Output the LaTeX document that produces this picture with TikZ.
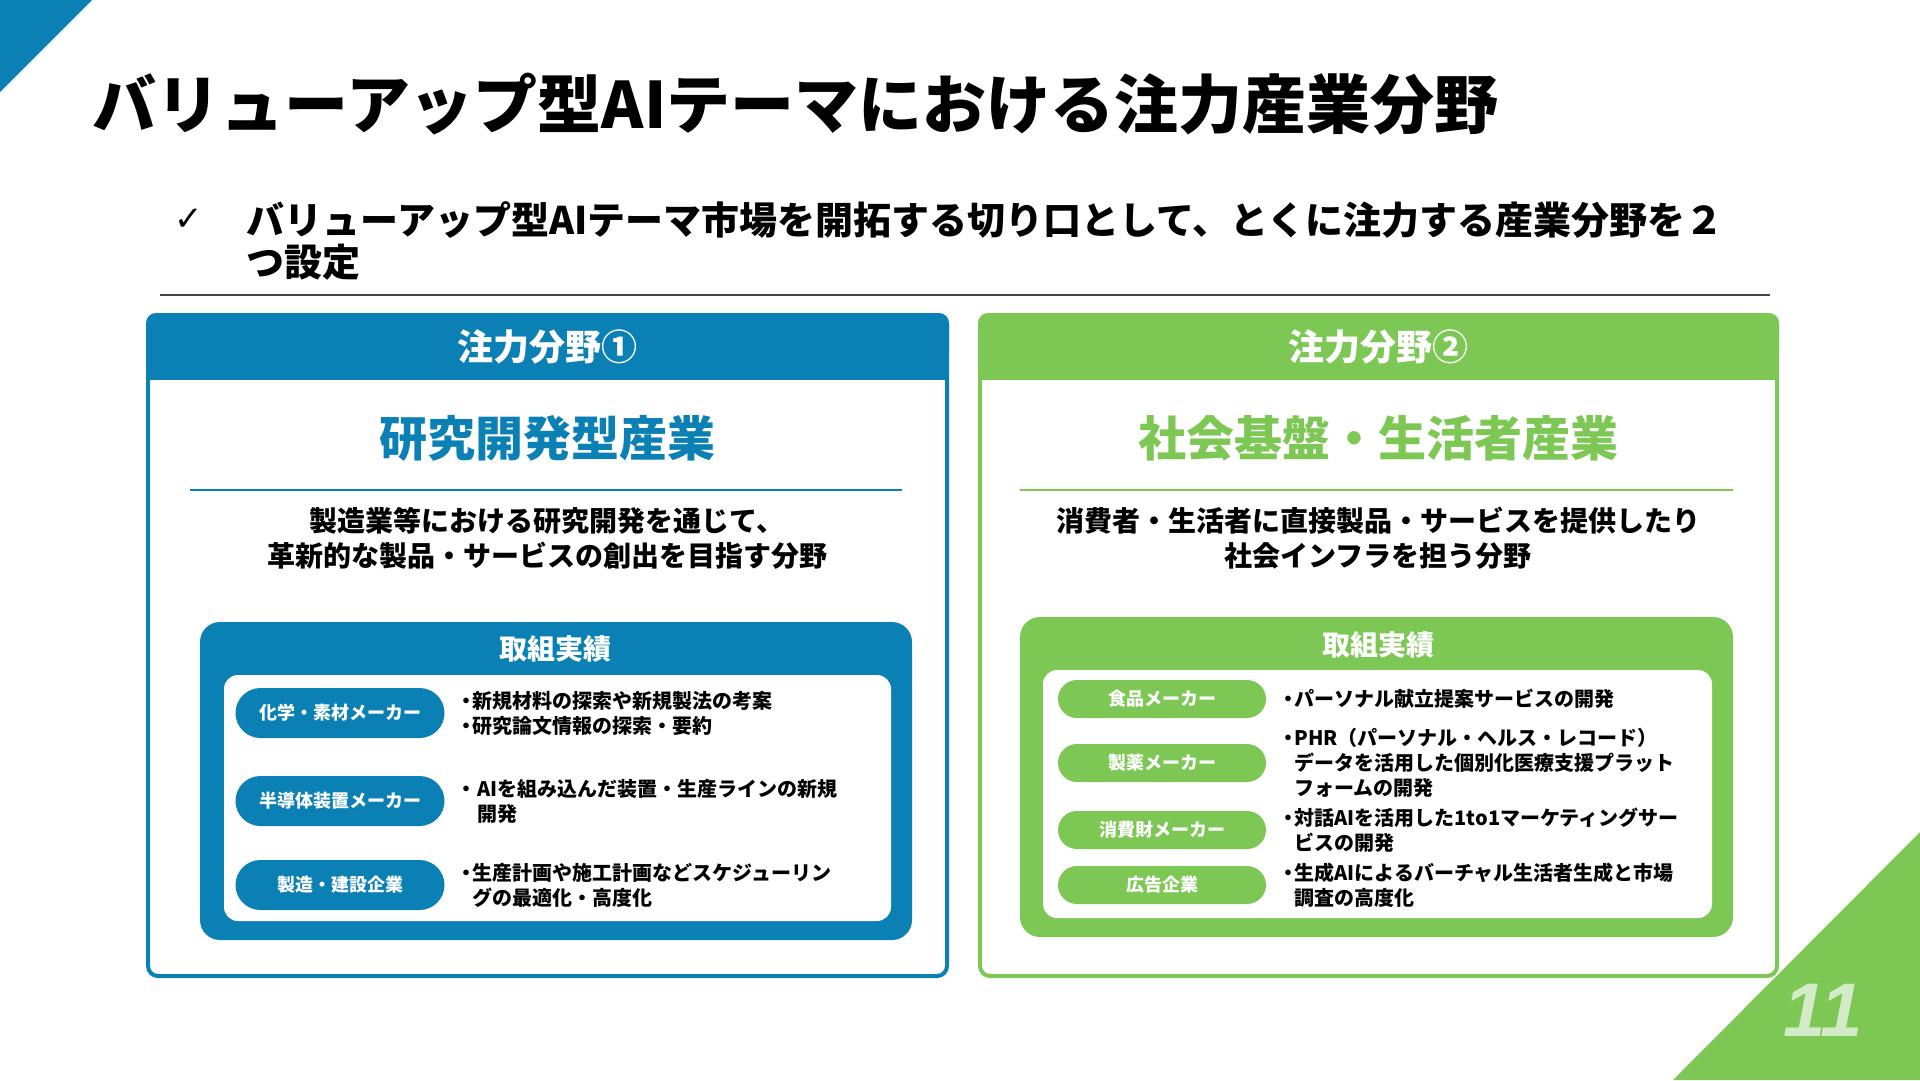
\documentclass[tikz,border=0pt]{standalone}
\usepackage{fontspec}
\setmainfont{Noto Sans CJK JP}
\newfontfamily\symfont{DejaVu Sans}
\newfontfamily\numfont{Liberation Sans}
\usetikzlibrary{positioning}
\definecolor{fieldblue}{HTML}{0A80B4}
\definecolor{fieldgreen}{HTML}{7DC855}
\definecolor{pagegreen}{HTML}{D3EBC6}
\definecolor{rulegray}{HTML}{444444}
\newcommand\dotitem{・\kern-4pt}
\newcommand\dotskip{\hspace*{16pt}}
\tikzset{
  pillA/.style={fill=fieldblue, text=white, rounded corners=25pt, minimum width=209pt, minimum height=50pt, inner sep=0pt, font=\bfseries\fontsize{18}{18}\selectfont},
  pillB/.style={fill=fieldgreen, text=white, rounded corners=19pt, minimum width=208pt, minimum height=38pt, inner sep=0pt, font=\bfseries\fontsize{18}{18}\selectfont},
  itemtext/.style={align=left, inner sep=0pt, font=\bfseries\fontsize{20}{25}\selectfont},
  headtext/.style={text=white, font=\bfseries\fontsize{36}{36}\selectfont},
  nametext/.style={font=\bfseries\fontsize{48}{48}\selectfont},
  desctext/.style={align=center, font=\bfseries\fontsize{28}{35}\selectfont},
  rectext/.style={text=white, font=\bfseries\fontsize{28}{28}\selectfont}
}
\begin{document}
\begin{tikzpicture}[x=1pt, y=-1pt]
\useasboundingbox (0,0) rectangle (1920,1080);
% corners
\fill[fieldblue] (0,0) -- (92,0) -- (0,92) -- cycle;
\fill[fieldgreen] (1920,832) -- (1920,1080) -- (1673,1080) -- cycle;
\node[text=pagegreen, font=\numfont\bfseries\itshape\fontsize{76}{76}\selectfont] (pageno) at (1823,1010) {11};

% title and lead
\node[anchor=west, font=\bfseries\fontsize{64}{64}\selectfont] (title) at (89,104) {バリューアップ型AIテーマにおける注力産業分野};
\node[font=\symfont\bfseries\fontsize{34}{34}\selectfont] (check) at (189,220) {✓};
\node[anchor=west, align=left, font=\bfseries\fontsize{38}{42}\selectfont] (lead) at (243,241) {バリューアップ型AIテーマ市場を開拓する切り口として、とくに注力する産業分野を２\\つ設定};
\draw[rulegray, line width=2] (160,295) -- (1770,295);

% field 1
\draw[fieldblue, line width=4, rounded corners=10] (148,315) rectangle (947,976);
\fill[fieldblue, rounded corners=10] (146,313) rectangle (949,360);
\fill[fieldblue] (146,340) rectangle (949,380);
\node[headtext] (headA) at (547,347) {注力分野①};
\node[nametext, text=fieldblue] (nameA) at (547,438) {研究開発型産業};
\draw[fieldblue, line width=2] (190,490) -- (902,490);
\node[desctext] (descA) at (547,538) {製造業等における研究開発を通じて、\\革新的な製品・サービスの創出を目指す分野};
\fill[fieldblue, rounded corners=20] (200,622) rectangle (912,940);
\node[rectext] (recA) at (555,649) {取組実績};
\fill[white, rounded corners=14] (224,675) rectangle (891,921);
\node[pillA] (chem) at (340,713) {化学・素材メーカー};
\node[pillA] (semi) at (340,801) {半導体装置メーカー};
\node[pillA] (build) at (340,885) {製造・建設企業};
\node[itemtext, right=12pt of chem] (chemtxt) {\dotitem 新規材料の探索や新規製法の考案\\\dotitem 研究論文情報の探索・要約};
\node[itemtext, right=12pt of semi] (semitxt) {\dotitem\ AIを組み込んだ装置・生産ラインの新規\\\dotskip\ 開発};
\node[itemtext, right=12pt of build] (buildtxt) {\dotitem 生産計画や施工計画などスケジューリン\\\dotskip グの最適化・高度化};

% field 2
\draw[fieldgreen, line width=4, rounded corners=10] (980,315) rectangle (1777,976);
\fill[fieldgreen, rounded corners=10] (978,313) rectangle (1779,360);
\fill[fieldgreen] (978,340) rectangle (1779,380);
\node[headtext] (headB) at (1378,347) {注力分野②};
\node[nametext, text=fieldgreen] (nameB) at (1378,438) {社会基盤・生活者産業};
\draw[fieldgreen, line width=2] (1020,490) -- (1733,490);
\node[desctext] (descB) at (1378,538) {消費者・生活者に直接製品・サービスを提供したり\\社会インフラを担う分野};
\fill[fieldgreen, rounded corners=20] (1020,617) rectangle (1733,937);
\node[rectext] (recB) at (1378,645) {取組実績};
\fill[white, rounded corners=14] (1043,670) rectangle (1712,918);
\node[pillB] (food) at (1162,699) {食品メーカー};
\node[pillB] (pharma) at (1162,763) {製薬メーカー};
\node[pillB] (goods) at (1162,830) {消費財メーカー};
\node[pillB] (adv) at (1162,885) {広告企業};
\node[itemtext, right=12pt of food] (foodtxt) {\dotitem パーソナル献立提案サービスの開発};
\node[itemtext, right=12pt of pharma] (pharmatxt) {\dotitem PHR（パーソナル・ヘルス・レコード）\\\dotskip データを活用した個別化医療支援プラット\\\dotskip フォームの開発};
\node[itemtext, right=12pt of goods] (goodstxt) {\dotitem 対話AIを活用した1to1マーケティングサー\\\dotskip ビスの開発};
\node[itemtext, right=12pt of adv] (advtxt) {\dotitem 生成AIによるバーチャル生活者生成と市場\\\dotskip 調査の高度化};
\end{tikzpicture}
\end{document}
